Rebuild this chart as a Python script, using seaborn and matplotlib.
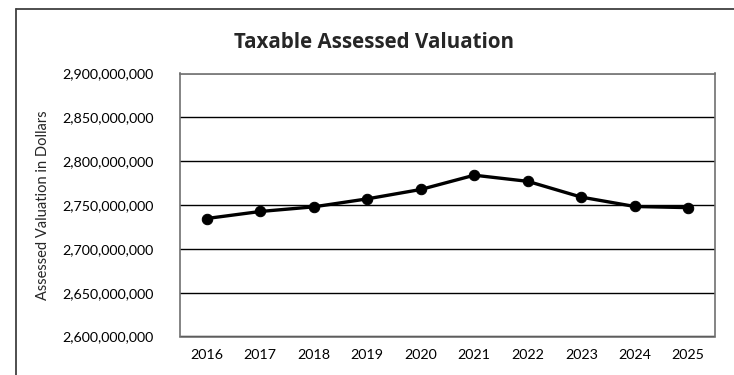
import matplotlib
matplotlib.use("Agg")
import matplotlib.pyplot as plt
import matplotlib.ticker as mticker
from matplotlib.lines import Line2D
import seaborn as sns
import pandas as pd

# Taxable assessed valuation by fiscal year (dollars)
years = [2016, 2017, 2018, 2019, 2020, 2021, 2022, 2023, 2024, 2025]
valuation = [2_734_600_000, 2_742_600_000, 2_747_900_000, 2_757_000_000,
             2_767_700_000, 2_784_000_000, 2_777_000_000, 2_759_000_000,
             2_748_300_000, 2_747_000_000]
y_ticks = [2_600_000_000, 2_650_000_000, 2_700_000_000, 2_750_000_000,
           2_800_000_000, 2_850_000_000, 2_900_000_000]

df = pd.DataFrame({"Year": years, "Valuation": valuation})

sns.set_theme(style="white")
plt.rcParams["font.family"] = ["Lato", "DejaVu Sans"]

fig = plt.figure(figsize=(7.34, 3.75), dpi=100)
ax = fig.add_axes([180 / 734, 1 - 336.5 / 375, 535 / 734, 263 / 375])

sns.lineplot(data=df, x="Year", y="Valuation", ax=ax, color="black",
             linewidth=2.4, marker="o", markersize=7.5,
             markeredgecolor="black", markerfacecolor="black", zorder=3)

ax.set_xlim(2015.5, 2025.5)
ax.set_ylim(y_ticks[0], y_ticks[-1])
ax.set_xticks(years)
ax.set_xticklabels([str(y) for y in years])
ax.set_yticks(y_ticks)
ax.yaxis.set_major_formatter(mticker.FuncFormatter(lambda v, _: f"{v:,.0f}"))
ax.tick_params(axis="both", length=0, labelsize=10.3, colors="black")
ax.tick_params(axis="x", pad=9)
ax.tick_params(axis="y", pad=19)

ax.yaxis.grid(True, color="black", linewidth=1.0)
ax.xaxis.grid(False)
for side in ["left", "right", "top", "bottom"]:
    ax.spines[side].set_visible(True)
    ax.spines[side].set_color("#707070")
    ax.spines[side].set_linewidth(1.2)

ax.set_xlabel("")
ax.set_ylabel("Assessed Valuation in Dollars", fontsize=10.5)
ax.yaxis.set_label_coords(-0.243, 0.5)

fig.text(374 / 734, 1 - 42 / 375, "Taxable Assessed Valuation",
         ha="center", va="center", fontsize=14.8, fontweight="bold",
         family=["Open Sans", "DejaVu Sans"])

# Chart frame (left and top edges)
frame_kw = dict(color="#404040", linewidth=1.3, transform=fig.transFigure)
fig.add_artist(Line2D([16 / 734, 16 / 734], [0, 1 - 9 / 375], **frame_kw))
fig.add_artist(Line2D([16 / 734, 1], [1 - 9 / 375, 1 - 9 / 375], **frame_kw))

fig.savefig("out.png", dpi=100)
